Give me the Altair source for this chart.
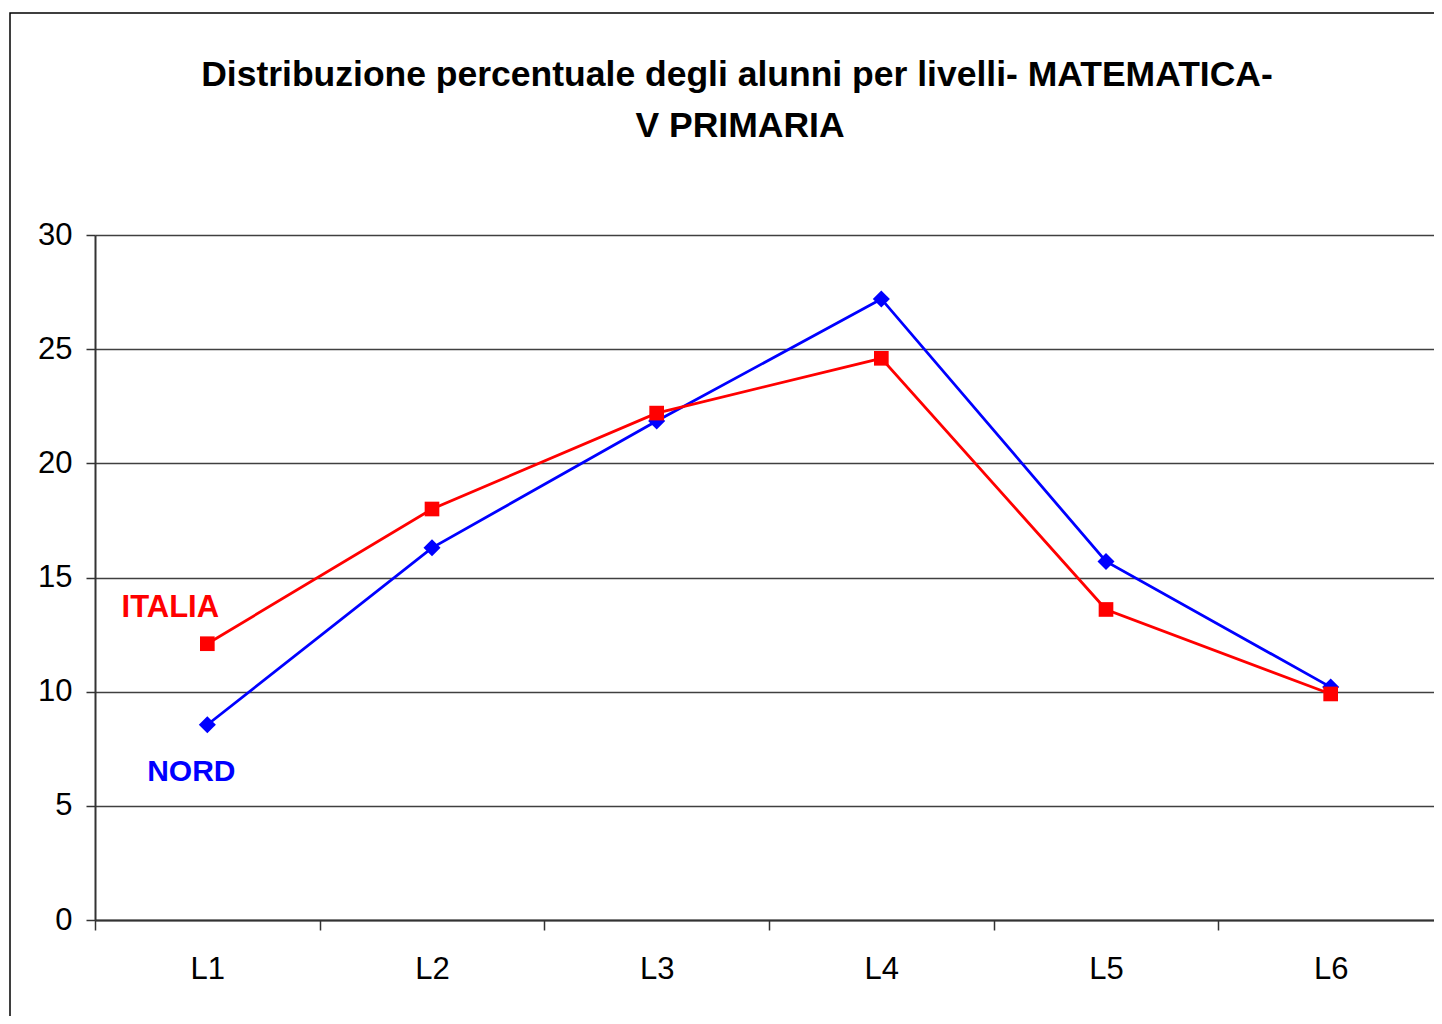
import altair as alt
import pandas as pd

levels = ["L1", "L2", "L3", "L4", "L5", "L6"]
italia = [12.1, 18.0, 22.2, 24.6, 13.6, 9.9]
nord = [8.55, 16.3, 21.85, 27.2, 15.7, 10.2]

series_names = ["NORD", "ITALIA"]
series_colors = ["#0000FF", "#FF0000"]

label_text = ["ITALIA", "NORD"]
label_level = ["L1", "L1"]
label_value = [13.65, 6.5]

title_lines = ["Distribuzione percentuale degli alunni per livelli- MATEMATICA-", "V PRIMARIA"]

FONT = "Liberation Sans"

df = pd.DataFrame({
    "livello": levels * 2,
    "valore": nord + italia,
    "serie": ["NORD"] * len(levels) + ["ITALIA"] * len(levels),
})
lab = pd.DataFrame({"testo": label_text, "livello": label_level, "valore": label_value})
tit = pd.DataFrame({"riga": title_lines, "n": [0, 1]})

W, H = 1339, 685

x_enc = alt.X(
    "livello:N",
    sort=levels,
    bandPosition=0.5,
    scale=alt.Scale(type="band", paddingInner=0, paddingOuter=0, range=[0, 1348]),
    axis=alt.Axis(
        title=None, labelAngle=0, tickBand="extent", ticks=True, tickSize=10,
        labelFontSize=31, labelFont=FONT, labelColor="#000000", labelPadding=24,
        domainColor="#333333", domainWidth=2, tickColor="#333333", tickWidth=1.5,
        grid=False,
    ),
)
y_enc = alt.Y(
    "valore:Q",
    scale=alt.Scale(domain=[0, 30], nice=False, zero=True),
    axis=alt.Axis(
        title=None, values=[0, 5, 10, 15, 20, 25, 30], tickSize=9,
        labelFontSize=31, labelFont=FONT, labelColor="#000000", labelPadding=14,
        domainColor="#333333", domainWidth=2, tickColor="#333333", tickWidth=1.5,
        grid=True, gridColor="#404040", gridWidth=1.3,
    ),
)

base = alt.Chart(df)

nord_line = base.transform_filter(alt.datum.serie == "NORD").mark_line(
    strokeWidth=2.8, color="#0000FF",
    point=alt.OverlayMarkDef(shape="diamond", size=290, filled=True, color="#0000FF", opacity=1),
).encode(x=x_enc, y=y_enc)

italia_line = base.transform_filter(alt.datum.serie == "ITALIA").mark_line(
    strokeWidth=2.8, color="#FF0000",
    point=alt.OverlayMarkDef(shape="square", size=215, filled=True, color="#FF0000", opacity=1),
).encode(x=x_enc, y=y_enc)

labels_chart = alt.Chart(lab)
lab_italia = labels_chart.transform_filter(alt.datum.testo == "ITALIA").mark_text(
    font=FONT, fontSize=31, fontWeight="bold", color="#FF0000", dx=-37, baseline="middle", align="center"
).encode(x=alt.X("livello:N", sort=levels, bandPosition=0.5), y=alt.Y("valore:Q"), text="testo:N")
lab_nord = labels_chart.transform_filter(alt.datum.testo == "NORD").mark_text(
    font=FONT, fontSize=30, fontWeight="bold", color="#0000FF", dx=-16, baseline="middle", align="center"
).encode(x=alt.X("livello:N", sort=levels, bandPosition=0.5), y=alt.Y("valore:Q"), text="testo:N")

tchart = alt.Chart(tit)
title1 = tchart.transform_filter(alt.datum.n == 0).mark_text(
    font=FONT, fontSize=35.5, fontWeight="bold", color="#000000", align="center", baseline="alphabetic"
).encode(x=alt.value(642), y=alt.value(-149), text="riga:N")
title2 = tchart.transform_filter(alt.datum.n == 1).mark_text(
    font=FONT, fontSize=35.5, fontWeight="bold", color="#000000", align="center", baseline="alphabetic"
).encode(x=alt.value(645), y=alt.value(-98), text="riga:N")

frame = alt.Chart(pd.DataFrame({"k": [0]})).mark_rect(
    fillOpacity=0, stroke="#000000", strokeWidth=1.5, clip=False
).encode(
    x=alt.value(-85), x2=alt.value(3000), y=alt.value(-222), y2=alt.value(3000)
)

chart = alt.layer(frame, nord_line, italia_line, lab_italia, lab_nord, title1, title2).properties(
    width=W,
    height=H,
    autosize=alt.AutoSizeParams(type="none"),
    padding={"left": 87, "top": 227, "right": 0, "bottom": 96},
).configure_view(stroke=None).configure(background="#FFFFFF")

chart.save("out.html", embed_options={"renderer": "svg", "actions": False})
